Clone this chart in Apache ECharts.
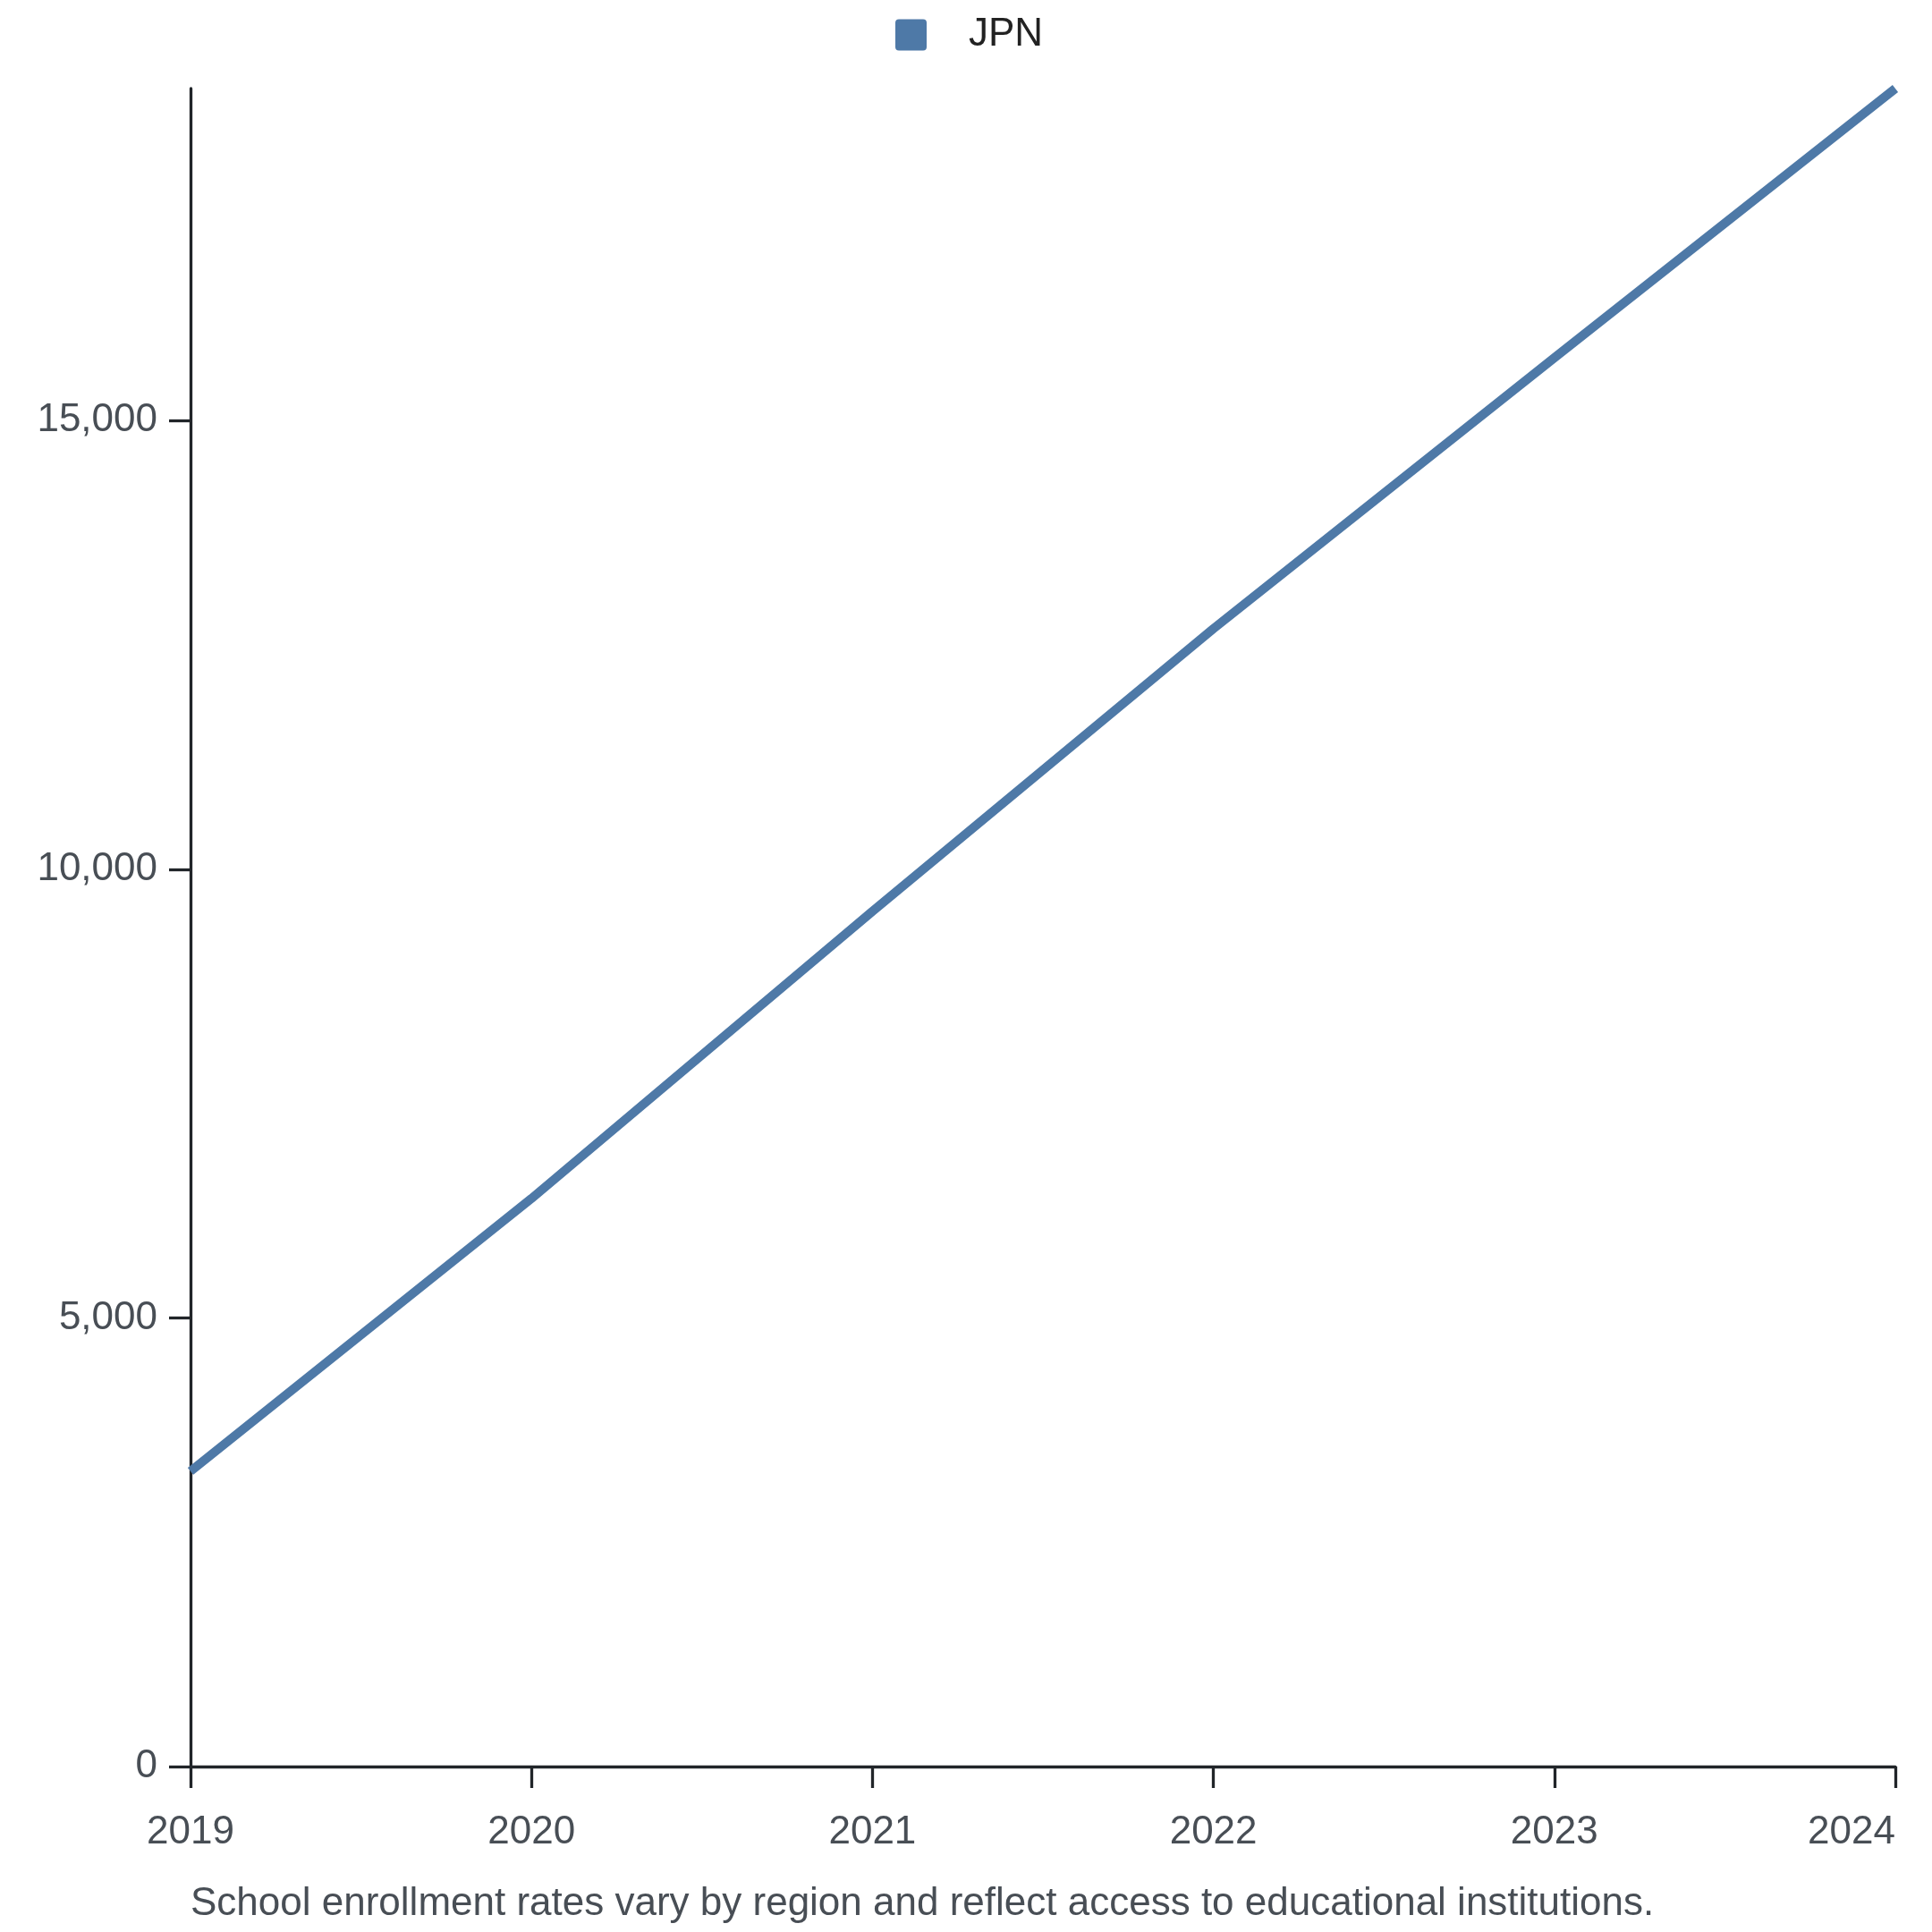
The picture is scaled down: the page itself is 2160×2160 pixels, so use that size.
<!DOCTYPE html>
<html>
<head>
<meta charset="utf-8">
<script src="https://cdn.jsdelivr.net/npm/echarts@6/dist/echarts.min.js"></script>
<style>html,body{margin:0;padding:0;background:#fff}#c{width:2160px;height:2160px}</style>
</head>
<body>
<div id="c"></div>
<script>
const categories = ['2019', '2020', '2021', '2022', '2023', '2024'];
const seriesName = 'JPN';
const values = [3290, 6330, 9530, 12680, 15700, 18700];
const yTicks = [0, 5000, 10000, 15000];
const note = 'School enrollment rates vary by region and reflect access to educational institutions.';

const FONT = 'Liberation Sans, Arial, sans-serif';
const chart = echarts.init(document.getElementById('c'));
chart.setOption({
  backgroundColor: '#fff',
  animation: false,
  legend: {
    top: 12, left: 996,
    itemWidth: 35, itemHeight: 35, itemGap: 20,
    icon: 'path://M4,0 H31 Q35,0 35,4 V31 Q35,35 31,35 H4 Q0,35 0,31 V4 Q0,0 4,0 Z',
    textStyle: { fontSize: 44, color: '#222', fontFamily: FONT, padding: [0, 0, 0, 42] },
    data: [seriesName]
  },
  title: {
    text: note, left: 208, top: 2102,
    textStyle: { fontSize: 44, fontWeight: 'normal', color: '#484e55', fontFamily: FONT }
  },
  grid: { left: 213, right: 41, top: 99, bottom: 185, containLabel: false },
  xAxis: {
    type: 'category', data: categories, boundaryGap: false,
    axisLine: { lineStyle: { color: '#212529', width: 3.3 } },
    axisTick: { length: 24, lineStyle: { color: '#212529', width: 3.3 } },
    axisLabel: { fontSize: 44, color: '#484e55', margin: 52, fontFamily: FONT,
      showMinLabel: true, showMaxLabel: true, alignMaxLabel: 'right' },
    splitLine: { show: false }
  },
  yAxis: {
    type: 'value', min: 0, max: 18700,
    axisLine: { show: true, lineStyle: { color: '#212529', width: 3.3 } },
    axisTick: { show: true, length: 24, customValues: yTicks, lineStyle: { color: '#212529', width: 3.3 } },
    axisLabel: { fontSize: 44, color: '#484e55', margin: 37, customValues: yTicks,
      fontFamily: FONT,
      formatter: v => v.toLocaleString('en-US') },
    splitLine: { show: false }
  },
  series: [{
    name: seriesName, type: 'line', data: values,
    showSymbol: false, symbol: 'none',
    lineStyle: { color: '#4e79a7', width: 10 },
    itemStyle: { color: '#4e79a7' }
  }]
});
</script>
</body>
</html>
